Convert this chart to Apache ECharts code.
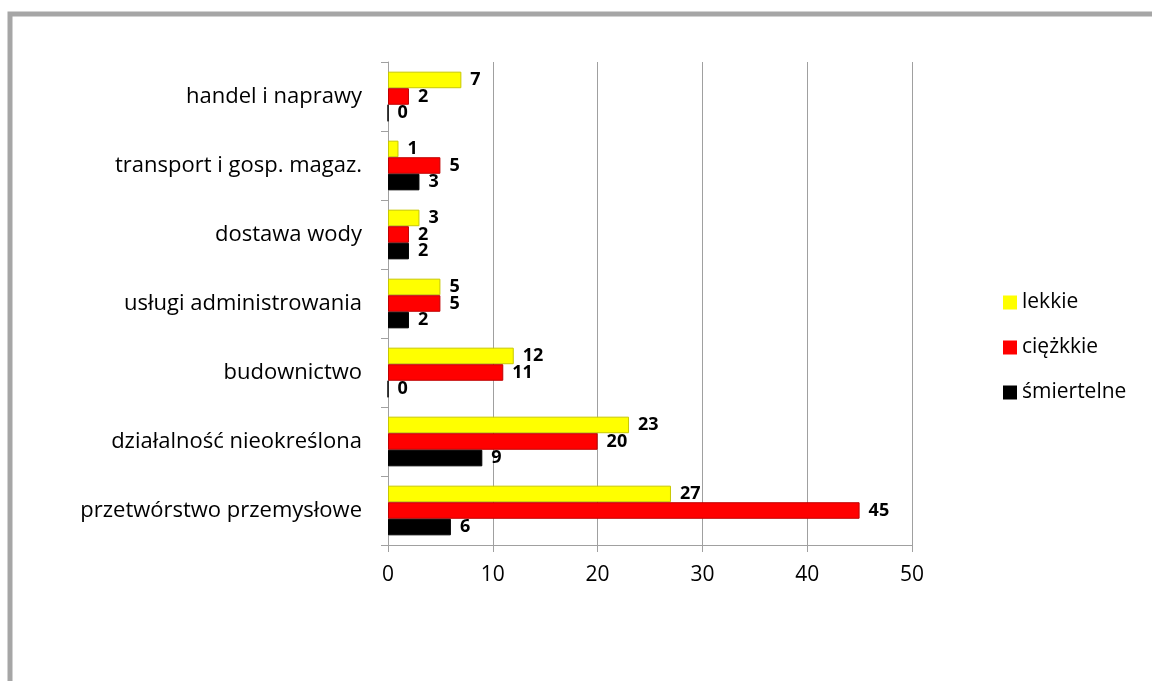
<!DOCTYPE html>
<html>
<head>
<meta charset="utf-8">
<script src="https://cdn.jsdelivr.net/npm/echarts@6/dist/echarts.min.js"></script>
<style>
  html, body { margin: 0; padding: 0; background: #fff; }
  #chart { width: 1152px; height: 681px; }
</style>
</head>
<body>
<div id="chart"></div>
<script>
var categories = ['handel i naprawy', 'transport i gosp. magaz.', 'dostawa wody', 'usługi administrowania', 'budownictwo', 'działalność nieokreślona', 'przetwórstwo przemysłowe'];
var lekkie = [7, 1, 3, 5, 12, 23, 27];
var ciezkie = [2, 5, 2, 5, 11, 20, 45];
var smiertelne = [0, 3, 2, 2, 0, 9, 6];
var xTicks = [0, 10, 20, 30, 40, 50];

var myChart = echarts.init(document.getElementById('chart'));
var font = '"Open Sans", "Liberation Sans", sans-serif';

var valLabel = {
  show: true,
  position: 'right',
  distance: 9,
  color: '#000',
  fontWeight: 'bold',
  fontSize: 18,
  fontFamily: font
};

function mkSeries(name, data, color, border) {
  return {
    name: name,
    type: 'bar',
    data: data,
    barGap: '0%',
    barCategoryGap: '28%',
    itemStyle: { color: color, borderColor: border, borderWidth: 1 },
    label: valLabel
  };
}

var option = {
  textStyle: { fontFamily: font },
  animation: false,
  color: ['#ffff00', '#ff0000', '#000000'],
  graphic: [{
    type: 'rect',
    shape: { x: 10, y: 14, width: 1160, height: 700 },
    style: { fill: 'none', stroke: '#a6a6a6', lineWidth: 5 }
  }],
  legend: {
    orient: 'vertical',
    left: 998,
    top: 287,
    itemWidth: 14,
    itemHeight: 14,
    itemGap: 24,
    icon: 'rect',
    itemStyle: { borderWidth: 0 },
    textStyle: { fontSize: 21, color: '#000', fontFamily: font },
    data: ['lekkie', 'ciężkie', 'śmiertelne'],
    formatter: function (n) { return n === 'ciężkie' ? 'ciężkkie' : n; }
  },
  grid: {
    left: 388,
    right: 240,
    top: 62,
    bottom: 136
  },
  xAxis: {
    type: 'value',
    min: xTicks[0],
    max: xTicks[xTicks.length - 1],
    interval: 10,
    axisLine: { show: true, lineStyle: { color: '#a0a0a0' } },
    axisTick: { show: true, length: 7, lineStyle: { color: '#a0a0a0' } },
    splitLine: { show: true, lineStyle: { color: '#a0a0a0' } },
    axisLabel: { color: '#000', fontSize: 21, margin: 20, fontFamily: font }
  },
  yAxis: {
    type: 'category',
    inverse: true,
    data: categories,
    axisLine: { show: true, lineStyle: { color: '#a0a0a0' } },
    axisTick: { show: true, length: 7, lineStyle: { color: '#a0a0a0' } },
    axisLabel: { color: '#000', fontSize: 22, margin: 26, fontFamily: font }
  },
  series: [
    mkSeries('lekkie', lekkie, '#ffff00', '#c8c800'),
    mkSeries('ciężkie', ciezkie, '#ff0000', '#c00000'),
    mkSeries('śmiertelne', smiertelne, '#000000', '#000000')
  ]
};

myChart.setOption(option);
</script>
</body>
</html>
